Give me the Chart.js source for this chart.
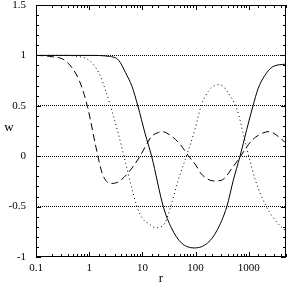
<!DOCTYPE html>
<html>
<head>
<meta charset="utf-8">
<script src="https://cdn.jsdelivr.net/npm/chart.js@4/dist/chart.umd.min.js"></script>
<style>
    body { margin: 0; background: #fff; }
    #chart { display: block; }
</style>
</head>
<body>
<canvas id="chart" width="291" height="287"></canvas>
<script>
// r on a log axis, w on a linear axis
const solidR = [0.1, 1, 2.4, 3.6, 4.8, 6.4, 8.2, 11.3, 14.9, 24.7, 35, 54, 96, 169, 250, 386, 510, 684, 906, 1200, 1493, 1995, 2800, 5000];
const solidW = [1, 1, 0.99, 0.95, 0.83, 0.69, 0.5, 0.22, 0, -0.5, -0.71, -0.86, -0.91, -0.86, -0.74, -0.5, -0.24, 0, 0.256, 0.5, 0.67, 0.8, 0.887, 0.914];

const dashR = [0.1, 0.18, 0.37, 0.65, 0.93, 1.34, 1.77, 2.54, 3.37, 5.5, 9, 13, 15, 20, 23, 35, 50, 72, 102, 127, 224, 300, 525, 700, 1070, 1493, 2460, 3370, 5000];
const dashW = [1, 0.99, 0.94, 0.75, 0.49, 0.09, -0.175, -0.27, -0.26, -0.16, 0, 0.15, 0.2, 0.235, 0.245, 0.2, 0.124, 0.01, -0.093, -0.175, -0.245, -0.24, -0.093, 0, 0.14, 0.206, 0.245, 0.206, 0.13];

const dotR = [0.1, 0.3, 0.6, 1, 1.54, 2.04, 2.54, 3.4, 4.5, 7.9, 9.8, 14, 18, 26.6, 35, 47, 67, 96, 127, 180, 279, 457, 610, 813, 1000, 1333, 2190, 3630, 5000];
const dotW = [1, 1, 0.99, 0.95, 0.82, 0.65, 0.49, 0.256, 0, -0.5, -0.61, -0.68, -0.71, -0.66, -0.475, -0.24, 0, 0.256, 0.5, 0.655, 0.71, 0.59, 0.456, 0.19, 0, -0.24, -0.51, -0.675, -0.74];

const xMajorTicks = [0.1, 1, 10, 100, 1000];
const yRefLines = [1, 0.5, 0, -0.5];

const serif = "'Liberation Serif', 'DejaVu Serif', serif";

function toPoints(xs, ys) {
    return xs.map((x, i) => ({ x: x, y: ys[i] }));
}

// Box, inward ticks and the upright axis names
const framePlugin = {
    id: 'frame',
    afterDraw(chart) {
        const { ctx, chartArea: a, scales } = chart;
        const xs = scales.x, ys = scales.y;
        ctx.save();
        ctx.strokeStyle = '#000';
        ctx.lineWidth = 1;
        ctx.setLineDash([]);
        ctx.strokeRect(a.left + 0.5, a.top + 0.5, a.right - a.left - 1, a.bottom - a.top - 1);

        ctx.beginPath();
        xs.ticks.forEach(t => {
            const px = Math.round(xs.getPixelForValue(t.value)) + 0.5;
            const lg = Math.log10(t.value);
            const len = Math.abs(lg - Math.round(lg)) < 1e-9 ? 5 : 3;
            ctx.moveTo(px, a.bottom); ctx.lineTo(px, a.bottom - len);
            ctx.moveTo(px, a.top); ctx.lineTo(px, a.top + len);
        });
        ys.ticks.forEach(t => {
            const py = Math.round(ys.getPixelForValue(t.value)) + 0.5;
            const major = Math.abs(t.value * 2 - Math.round(t.value * 2)) < 1e-6;
            const len = major ? 5 : 3;
            ctx.moveTo(a.left, py); ctx.lineTo(a.left + len, py);
            ctx.moveTo(a.right, py); ctx.lineTo(a.right - len, py);
        });
        ctx.stroke();

        ctx.fillStyle = '#000';
        ctx.font = '13px ' + serif;
        ctx.textAlign = 'center';
        ctx.textBaseline = 'middle';
        ctx.fillText('w', 9, (a.top + a.bottom) / 2 - 3);
        ctx.fillText('r', (a.left + a.right) / 2, 279);
        ctx.restore();
    }
};

const lineStyle = {
    pointRadius: 0,
    borderWidth: 1,
    borderColor: '#000',
    fill: false,
    cubicInterpolationMode: 'monotone'
};

new Chart(document.getElementById('chart'), {
    type: 'line',
    data: {
        datasets: [
            Object.assign({ label: 'solid', data: toPoints(solidR, solidW) }, lineStyle),
            Object.assign({ label: 'dashed', data: toPoints(dashR, dashW), borderDash: [7, 4] }, lineStyle),
            Object.assign({ label: 'dotted', data: toPoints(dotR, dotW), borderDash: [1, 3] }, lineStyle)
        ]
    },
    options: {
        responsive: false,
        animation: false,
        events: [],
        layout: { padding: { top: 5, right: 2, left: 0, bottom: 0 } },
        plugins: { legend: { display: false }, tooltip: { enabled: false } },
        scales: {
            x: {
                type: 'logarithmic',
                min: 0.1,
                max: 5000,
                grid: { display: false, drawTicks: false },
                border: { display: false },
                ticks: {
                    autoSkip: false,
                    maxRotation: 0,
                    padding: 5,
                    color: '#000',
                    font: { family: serif, size: 11 },
                    callback: v => xMajorTicks.includes(v) ? String(v) : ''
                },
                afterFit: s => { s.height = 30; }
            },
            y: {
                min: -1,
                max: 1.5,
                grid: {
                    drawTicks: false,
                    color: c => (c.tick && yRefLines.some(v => Math.abs(v - c.tick.value) < 1e-6)) ? '#000' : 'rgba(0,0,0,0)'
                },
                border: { display: false, dash: [1, 1] },
                ticks: {
                    stepSize: 0.1,
                    maxTicksLimit: 100,
                    autoSkip: false,
                    padding: 10,
                    color: '#000',
                    font: { family: serif, size: 11 },
                    callback: v => Math.abs(v * 2 - Math.round(v * 2)) < 1e-6 ? String(Math.round(v * 10) / 10) : ''
                },
                afterFit: s => { s.width = 36; s.paddingTop = 0; s.paddingBottom = 0; }
            }
        }
    },
    plugins: [framePlugin]
});
</script>
</body>
</html>
